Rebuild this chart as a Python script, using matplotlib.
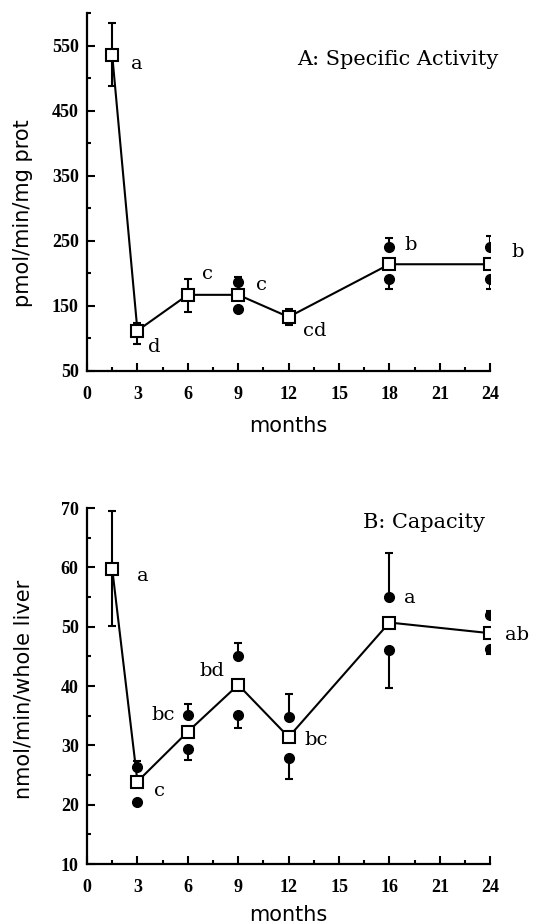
import matplotlib.pyplot as plt
from matplotlib.ticker import MultipleLocator

# ---- data ----
months = [1.5, 3, 6, 9, 12, 18, 24]

# A: specific activity (pmol/min/mg prot), open squares = mean
act_mean = [535, 112, 167, 167, 133, 214, 214]
act_err_lo = [47, 20, 26, 0, 12, 0, 0]
act_err_hi = [50, 12, 24, 0, 12, 0, 0]
act_letters = ["a", "d", "c", "c", "cd", "b", "b"]

# filled circles (two groups) shown where they separate from the mean
act_dot_x = [9, 18, 24]
act_dot_hi = [186, 241, 241]
act_dot_hi_err = [9, 13, 16]
act_dot_lo = [145, 191, 191]
act_dot_lo_err = [3, 15, 15]

# B: capacity (nmol/min/whole liver)
cap_mean = [59.7, 23.9, 32.3, 40.2, 31.4, 50.7, 48.9]
cap_err_lo = [9.5, 0, 0, 0, 0, 0, 0]
cap_err_hi = [9.8, 0, 0, 0, 0, 0, 0]
cap_letters = ["a", "c", "bc", "bd", "bc", "a", "ab"]

cap_dot_x = [3, 6, 9, 12, 18, 24]
cap_dot_hi = [26.4, 35.2, 45.1, 34.8, 55.0, 51.9]
cap_dot_hi_err = [0.9, 1.8, 2.1, 3.9, 7.4, 0.8]
cap_dot_lo = [20.5, 29.4, 35.2, 27.8, 46.0, 46.3]
cap_dot_lo_err = [0.3, 1.9, 2.3, 3.4, 6.3, 0.9]

xticks = [0, 3, 6, 9, 12, 15, 18, 21, 24]
xtick_labels_a = ["0", "3", "6", "9", "12", "15", "18", "21", "24"]
xtick_labels_b = ["0", "3", "6", "9", "12", "15", "16", "21", "24"]

yticks_a = [50, 150, 250, 350, 450, 550]
yminor_a = [100, 200, 300, 400, 500, 600]
yticks_b = [10, 20, 30, 40, 50, 60, 70]
yminor_b = [15, 25, 35, 45, 55, 65]

# label offsets in points (layout only)
act_offsets = [(18, -6), (12, -12), (14, 15), (17, 7), (19, -10), (15, 14), (20, 9)]
cap_offsets = [(22, -5), (16, -7), (-18, 12), (-19, 10), (20, -2), (15, 18), (19, -1)]

SERIF_B = dict(family="Liberation Serif", weight="bold", size=13)


def style_axes(ax, ylim, ymaj, ymin, xlabels, ylabel, xlabelpad):
    ax.set_xlim(0, 24)
    ax.set_ylim(*ylim)
    for s in ("top", "right"):
        ax.spines[s].set_visible(False)
    for s in ("left", "bottom"):
        ax.spines[s].set_linewidth(1.6)
    ax.set_xticks(xticks)
    ax.set_xticklabels(xlabels, fontdict=SERIF_B)
    ax.xaxis.set_minor_locator(MultipleLocator(1.5))
    ax.set_yticks(ymaj)
    ax.set_yticks(ymin, minor=True)
    ax.set_yticklabels([str(v) for v in ymaj], fontdict=SERIF_B)
    ax.tick_params(which="major", direction="in", length=6, width=1.5)
    ax.tick_params(which="minor", direction="in", length=3, width=1.5)
    ax.tick_params(axis="x", which="major", pad=11)
    ax.tick_params(axis="y", which="major", pad=6)
    ax.set_xlabel("months", fontsize=15, family="DejaVu Sans", labelpad=xlabelpad)
    ax.set_ylabel(ylabel, fontsize=15, family="DejaVu Sans")


def draw_panel(ax, mean, lo, hi, dx, dhi, dhi_e, dlo, dlo_e, letters, offsets):
    zeros = [0] * len(dx)
    ax.errorbar(dx, dhi, yerr=[zeros, dhi_e], fmt="o", ms=7, color="black",
                elinewidth=1.5, capsize=3, capthick=1.5, zorder=3)
    ax.errorbar(dx, dlo, yerr=[dlo_e, zeros], fmt="o", ms=7, color="black",
                elinewidth=1.5, capsize=3, capthick=1.5, zorder=3)
    ax.errorbar(months, mean, yerr=[lo, hi], fmt="s-", ms=8, color="black",
                mfc="white", mec="black", mew=1.5, lw=1.5,
                elinewidth=1.5, capsize=3, capthick=1.5, zorder=4)
    for x, y, t, off in zip(months, mean, letters, offsets):
        ax.annotate(t, (x, y), xytext=off, textcoords="offset points",
                    ha="center", va="center", fontsize=14, family="DejaVu Serif",
                    annotation_clip=False)


fig = plt.figure(figsize=(5.34, 9.24), dpi=100)
ax1 = fig.add_axes([0.163, 0.5985, 0.755, 0.3874])
ax2 = fig.add_axes([0.163, 0.0649, 0.755, 0.3853])

draw_panel(ax1, act_mean, act_err_lo, act_err_hi, act_dot_x, act_dot_hi,
           act_dot_hi_err, act_dot_lo, act_dot_lo_err, act_letters, act_offsets)
style_axes(ax1, (50, 600), yticks_a, yminor_a, xtick_labels_a,
           "pmol/min/mg prot", 9)
ax1.yaxis.set_label_coords(-0.134, 0.44)
ax1.text(0.77, 0.869, "A: Specific Activity", transform=ax1.transAxes,
         ha="center", va="center", fontsize=15, family="DejaVu Serif")

draw_panel(ax2, cap_mean, cap_err_lo, cap_err_hi, cap_dot_x, cap_dot_hi,
           cap_dot_hi_err, cap_dot_lo, cap_dot_lo_err, cap_letters, cap_offsets)
style_axes(ax2, (10, 70), yticks_b, yminor_b, xtick_labels_b,
           "nmol/min/whole liver", 6)
ax2.yaxis.set_label_coords(-0.134, 0.49)
ax2.text(0.836, 0.958, "B: Capacity", transform=ax2.transAxes,
         ha="center", va="center", fontsize=15, family="DejaVu Serif")

fig.savefig("out.png", dpi=100)
